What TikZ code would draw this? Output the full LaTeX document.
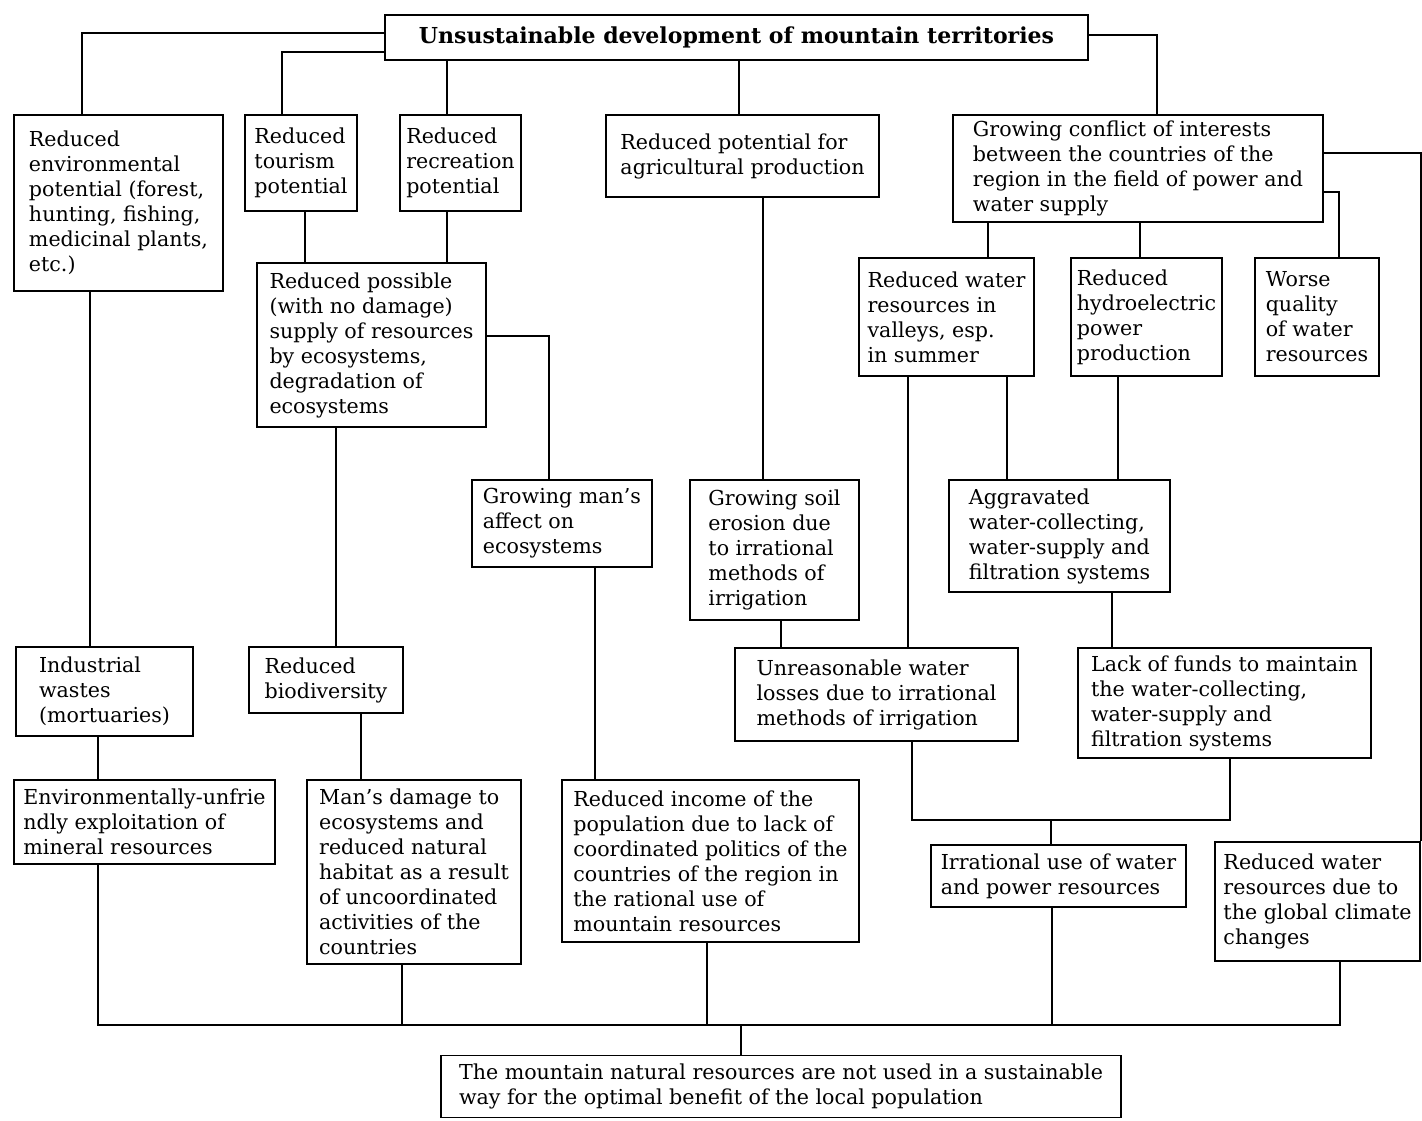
\documentclass[tikz,border=0pt]{standalone}
\usepackage{fontspec}
\setmainfont{DejaVu Serif}
\usepackage{tikz}
\usetikzlibrary{positioning}

\begin{document}
\begin{tikzpicture}[
    x=0.5pt, y=-0.5pt,
    font=\fontsize{10.3pt}{12.5pt}\selectfont,
    box/.style={
        draw=black, line width=0.9pt, fill=white, align=left,
        inner sep=3pt,
    },
    heading/.style={
        box, align=center, font=\fontsize{11pt}{13pt}\selectfont\bfseries,
    },
    link/.style={draw=black, line width=0.9pt},
]
\fill[white] (0,0) rectangle (1422,1120);

% ── Top: title and first row ─────────────────────────────────────────
\node[heading, minimum width=351.5pt, minimum height=22.5pt] (title) at (736.5,37.5)
    {Unsustainable development of mountain territories};

\node[box, minimum width=104.5pt, minimum height=88pt] (env) at (118.5,203)
    {Reduced\\environmental\\potential (forest,\\hunting, fishing,\\medicinal plants,\\etc.)};
\node[box, minimum width=56pt, minimum height=48pt] (tour) at (301,163)
    {Reduced\\tourism\\potential};
\node[box, minimum width=60.5pt, minimum height=48pt] (recr) at (460.5,163)
    {Reduced\\recreation\\potential};
\node[box, minimum width=136.5pt, minimum height=41pt] (agr) at (742.5,156)
    {Reduced potential for\\agricultural production};
\node[box, minimum width=185pt, minimum height=53.5pt] (conf) at (1138,168.5)
    {Growing conflict of interests\\between the countries of the\\region in the field of power and\\water supply};

% ── Second row ───────────────────────────────────────────────────────
\node[box, minimum width=114.5pt, minimum height=82pt] (supply) at (371.5,345)
    {Reduced possible\\(with no damage)\\supply of resources\\by ecosystems,\\degradation of\\ecosystems};
\node[box, minimum width=87.5pt, minimum height=59pt] (valley) at (946.5,317)
    {Reduced water\\resources in\\valleys, esp.\\in summer};
\node[box, minimum width=74.5pt, minimum height=59pt] (hydro) at (1146.5,317)
    {Reduced\\hydroelectric\\power\\production};
\node[box, minimum width=62pt, minimum height=59pt] (worse) at (1317,317)
    {Worse\\quality\\of water\\resources};

% ── Middle row ───────────────────────────────────────────────────────
\node[box, minimum width=90pt, minimum height=43.5pt] (affect) at (562,523.5)
    {Growing man’s\\affect on\\ecosystems};
\node[box, minimum width=84.5pt, minimum height=70pt] (soil) at (774.5,550)
    {Growing soil\\erosion due\\to irrational\\methods of\\irrigation};
\node[box, minimum width=110.5pt, minimum height=56pt] (aggr) at (1059.5,536)
    {Aggravated\\water-collecting,\\water-supply and\\filtration systems};

\node[box, minimum width=88.5pt, minimum height=44.5pt] (indus) at (104.5,691.5)
    {Industrial\\wastes\\(mortuaries)};
\node[box, minimum width=77pt, minimum height=33pt] (biodiv) at (326,680)
    {Reduced\\biodiversity};
\node[box, minimum width=141.5pt, minimum height=46.5pt] (unreas) at (876.5,694.5)
    {Unreasonable water\\losses due to irrational\\methods of irrigation};
\node[box, minimum width=146.5pt, minimum height=55pt] (lack) at (1224.5,703)
    {Lack of funds to maintain\\the water-collecting,\\water-supply and\\filtration systems};

% ── Lower row ────────────────────────────────────────────────────────
\node[box, minimum width=130.5pt, minimum height=42pt] (envunf) at (144.5,822)
    {Environmentally-unfrie\\ndly exploitation of\\mineral resources};
\node[box, minimum width=107pt, minimum height=92pt] (damage) at (414,872)
    {Man’s damage to\\ecosystems and\\reduced natural\\habitat as a result\\of uncoordinated\\activities of the\\countries};
\node[box, minimum width=148.5pt, minimum height=81pt] (income) at (710.5,861)
    {Reduced income of the\\population due to lack of\\coordinated politics of the\\countries of the region in\\the rational use of\\mountain resources};
\node[box, minimum width=127.5pt, minimum height=31pt] (irr) at (1058.5,876)
    {Irrational use of water\\and power resources};
\node[box, minimum width=102.5pt, minimum height=59.5pt] (climate) at (1317.5,901.5)
    {Reduced water\\resources due to\\the global climate\\changes};

% ── Bottom: outcome ──────────────────────────────────────────────────
\node[box, minimum width=340pt, minimum height=31pt] (final) at (781,1086.5)
    {The mountain natural resources are not used in a sustainable\\way for the optimal benefit of the local population};

% ── Edges ────────────────────────────────────────────────────────────
% title -> first row
\draw[link] ([yshift=2.25pt]title.west) -| ([xshift=-18.25pt]env.north);
\draw[link] ([yshift=-7.25pt]title.west) -| ([xshift=-9.5pt]tour.north);
\draw[link] ([xshift=-6.75pt]recr.north |- title.south) -- ([xshift=-6.75pt]recr.north);
\draw[link] ([xshift=-1.75pt]agr.north |- title.south) -- ([xshift=-1.75pt]agr.north);
\draw[link] ([yshift=1.25pt]title.east) -| ([xshift=9.5pt]conf.north);

% ecosystem branch
\draw[link] ([xshift=2pt]tour.south) -- ([xshift=2pt]tour.south |- supply.north);
\draw[link] ([xshift=-6.75pt]recr.south) -- ([xshift=-6.75pt]recr.south |- supply.north);
\draw[link] ([yshift=4.5pt]supply.east) -| ([xshift=-6.5pt]affect.north);
\draw[link] ([xshift=5pt]biodiv.north |- supply.south) -- ([xshift=5pt]biodiv.north);
\draw[link] ([xshift=17.5pt]biodiv.south) -- ([xshift=17.5pt]biodiv.south |- damage.north);
\draw[link] ([xshift=16.5pt]affect.south) -- ([xshift=16.5pt]affect.south |- income.north);

% environment branch
\draw[link] ([xshift=-7.25pt]indus.north |- env.south) -- ([xshift=-7.25pt]indus.north);
\draw[link] ([xshift=-3.25pt]indus.south) -- ([xshift=-3.25pt]indus.south |- envunf.north);

% agriculture branch
\draw[link] ([xshift=-5.75pt]soil.north |- agr.south) -- ([xshift=-5.75pt]soil.north);
\draw[link] ([xshift=3.25pt]soil.south) -- ([xshift=3.25pt]soil.south |- unreas.north);

% water / power branch
\draw[link] ([xshift=20.75pt]valley.north |- conf.south) -- ([xshift=20.75pt]valley.north);
\draw[link] ([xshift=1pt]conf.south) -- ([xshift=1pt]conf.south |- hydro.north);
\draw[link] ([yshift=-11.75pt]conf.east) -| ([xshift=11pt]worse.north);
\draw[link] ([yshift=7.75pt]conf.east) -| (climate.north east);
\draw[link] ([xshift=-19.25pt]valley.south) -- ([xshift=-19.25pt]valley.south |- unreas.north);
\draw[link] ([xshift=30.25pt]valley.south) -- ([xshift=30.25pt]valley.south |- aggr.north);
\draw[link] ([xshift=-14.25pt]hydro.south) -- ([xshift=-14.25pt]hydro.south |- aggr.north);
\draw[link] ([xshift=26.25pt]aggr.south) -- ([xshift=26.25pt]aggr.south |- lack.north);

% losses + funds -> irrational use
\coordinate (merge) at (1051,820);
\draw[link] ([xshift=17.75pt]unreas.south) |- (merge) -| ([xshift=2.75pt]lack.south);
\draw[link] (merge) -- (merge |- irr.north);

% everything -> outcome (bus)
\coordinate (bus) at (741,1025);
\draw[link] ([xshift=-23.25pt]envunf.south) |- (bus) -| ([xshift=11.25pt]climate.south);
\draw[link] ([xshift=-6pt]damage.south) -- ([xshift=-6pt]damage.south |- bus);
\draw[link] ([xshift=-1.75pt]income.south) -- ([xshift=-1.75pt]income.south |- bus);
\draw[link] ([xshift=-3.25pt]irr.south) -- ([xshift=-3.25pt]irr.south |- bus);
\draw[link] (bus) -- (bus |- final.north);

\end{tikzpicture}
\end{document}
